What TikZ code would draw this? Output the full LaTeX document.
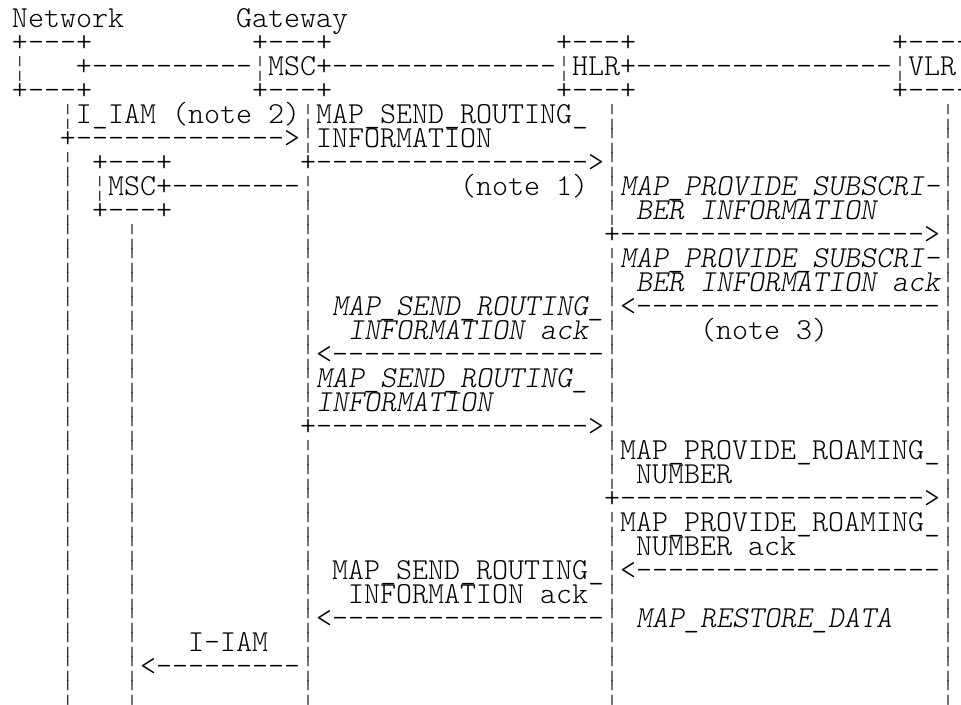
\documentclass[tikz,border=0pt]{standalone}
\usepackage{fontspec}
\setmonofont{lmmonolt10-regular.otf}[ItalicFont=lmmonolt10-oblique.otf]
\newfontfamily\barfamily{Liberation Mono}
\usepackage{tikz}
\newcommand{\asciifont}{\ttfamily\fontsize{22.86pt}{18pt}\selectfont}
\newcommand{\barfont}{\barfamily\fontsize{20pt}{18pt}\selectfont}
\tikzset{
	txt/.style={anchor=base west,inner sep=0pt,outer sep=0pt,font=\asciifont},
	itxt/.style={txt,font=\asciifont\itshape},
	bar/.style={anchor=base,inner sep=0pt,outer sep=0pt,font=\barfont,xscale=0.5,transform shape},
}

\begin{document}
\begin{tikzpicture}[x=12pt,y=-18pt]
	\useasboundingbox (-9pt,2.5pt) rectangle (711.75pt,-525.5pt);

	% Entities
	\node[txt] (netname) at (0,1) {Network};
	\node[txt] (gwname) at (14,1) {Gateway};
	\node[txt] (nettop) at (0,2) {+---+};
	\node[txt] (gmsctop) at (15,2) {+---+};
	\node[txt] (hlrtop) at (34,2) {+---+};
	\node[txt] (vlrtop) at (55,2) {+----};
	\node[txt] (netlink) at (4,3) {+----------};
	\node[txt] (gmsc) at (16,3) {MSC+--------------};
	\node[txt] (hlr) at (35,3) {HLR+----------------};
	\node[txt] (vlr) at (56,3) {VLR};
	\node[txt] (netbot) at (0,4) {+---+};
	\node[txt] (gmscbot) at (15,4) {+---+};
	\node[txt] (hlrbot) at (34,4) {+---+};
	\node[txt] (vlrbot) at (55,4) {+----};
	\node[txt] (vmsctop) at (5,7) {+---+};
	\node[txt] (vmsc) at (6,8) {MSC+--------};
	\node[txt] (vmscbot) at (5,9) {+---+};

	% Box sides
	\foreach \c/\r in {0/3, 15/3, 34/3, 55/3, 5/8}
		\node[bar] (side\c-\r) at (\c+0.5,\r) {¦};

	% Lifelines
	\foreach \r in {5,7,8,9,10,11,12,13,14,15,16,17,18,19,20,21,22,23,24,25,26,27,28,29}
		\node[bar] (netline\r) at (3.5,\r) {¦};
	\foreach \r in {10,...,29}
		\node[bar] (vmscline\r) at (7.5,\r) {¦};
	\foreach \r in {5,6,8,9,10,11,12,13,14,15,16,17,19,20,21,22,23,24,25,26,27,28,29}
		\node[bar] (gmscline\r) at (18.5,\r) {¦};
	\foreach \r in {5,6,7,8,9,11,12,13,14,15,16,17,18,19,20,22,23,24,25,26,27,28,29}
		\node[bar] (hlrline\r) at (37.5,\r) {¦};
	\foreach \r in {5,...,29}
		\node[bar] (vlrline\r) at (58.5,\r) {¦};

	% Messages
	\node[txt] (iam) at (4,5) {I\_IAM (note 2)};
	\node[txt] (iamarrow) at (3,6) {+------------->};
	\node[txt] (sri) at (19,5) {MAP\_SEND\_ROUTING\_};
	\node[txt] (sri2) at (19,6) {INFORMATION};
	\node[txt] (sriarrow) at (18,7) {+----------------->};
	\node[txt] (note1) at (28,8) {(note 1)};
	\node[itxt] (psi) at (38,8) {MAP\_PROVIDE\_SUBSCRI-};
	\node[itxt] (psi2) at (39,9) {BER INFORMATION};
	\node[txt] (psiarrow) at (37,10) {+------------------->};
	\node[itxt] (psiack) at (38,11) {MAP\_PROVIDE\_SUBSCRI-};
	\node[itxt] (psiack2) at (39,12) {BER INFORMATION ack};
	\node[txt] (psiackarrow) at (38,13) {<-------------------};
	\node[itxt] (sriack) at (20,13) {MAP\_SEND\_ROUTING\_};
	\node[itxt] (sriack2) at (21,14) {INFORMATION ack};
	\node[txt] (note3) at (43,14) {(note 3)};
	\node[txt] (sriackarrow) at (19,15) {<-----------------};
	\node[itxt] (srib) at (19,16) {MAP\_SEND\_ROUTING\_};
	\node[itxt] (srib2) at (19,17) {INFORMATION};
	\node[txt] (sribarrow) at (18,18) {+----------------->};
	\node[txt] (prn) at (38,19) {MAP\_PROVIDE\_ROAMING\_};
	\node[txt] (prn2) at (39,20) {NUMBER};
	\node[txt] (prnarrow) at (37,21) {+------------------->};
	\node[txt] (prnack) at (38,22) {MAP\_PROVIDE\_ROAMING\_};
	\node[txt] (prnack2) at (39,23) {NUMBER ack};
	\node[txt] (prnackarrow) at (38,24) {<-------------------};
	\node[txt] (sribnack) at (20,24) {MAP\_SEND\_ROUTING\_};
	\node[txt] (sribnack2) at (21,25) {INFORMATION ack};
	\node[txt] (sribackarrow) at (19,26) {<-----------------};
	\node[itxt] (rd) at (39,26) {MAP\_RESTORE\_DATA};
	\node[txt] (iiam) at (11,27) {I-IAM};
	\node[txt] (iiamarrow) at (8,28) {<---------};
\end{tikzpicture}
\end{document}
